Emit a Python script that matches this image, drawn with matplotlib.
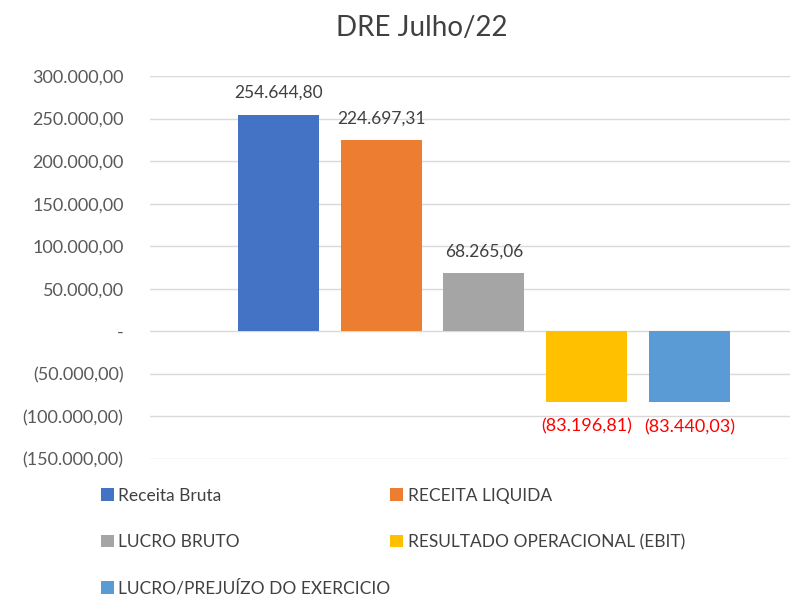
import matplotlib.pyplot as plt
from matplotlib.ticker import FuncFormatter

plt.rcParams['font.family'] = ['Lato', 'DejaVu Sans']

# dados do DRE
categorias = ['Receita Bruta', 'RECEITA LIQUIDA', 'LUCRO BRUTO',
              'RESULTADO OPERACIONAL (EBIT)', 'LUCRO/PREJUÍZO DO EXERCICIO']
valores = [254644.80, 224697.31, 68265.06, -83196.81, -83440.03]
cores = ['#4472C4', '#ED7D31', '#A5A5A5', '#FFC000', '#5B9BD5']
yticks = [300000, 250000, 200000, 150000, 100000, 50000, 0,
          -50000, -100000, -150000]


def fmt_br(v, pos=None):
    if abs(v) < 0.005:
        return '-'
    s = '{:,.2f}'.format(abs(v)).replace(',', 'X').replace('.', ',').replace('X', '.')
    if v < 0:
        return '(' + s + ')'
    return s


fig = plt.figure(figsize=(7.94, 5.97), dpi=100)
W, H = 794, 597
ax = fig.add_axes([150 / W, 1 - 459 / H, 640 / W, 383 / H])

x = list(range(len(valores)))
barras = ax.bar(x, valores, width=0.79, color=cores, zorder=3)

for xi, v in zip(x, valores):
    if v >= 0:
        ax.annotate(fmt_br(v), (xi, v), xytext=(0, 10), textcoords='offset points',
                    ha='center', va='bottom', fontsize=12.5, color='#404040')
    else:
        ax.annotate(fmt_br(v), (xi, v), xytext=(0, -12), textcoords='offset points',
                    ha='center', va='top', fontsize=13, color='#FF0000')

ax.set_xlim(-1.25, 4.98)
ax.set_ylim(-150000, 300000)
ax.set_yticks(yticks)
ax.yaxis.set_major_formatter(FuncFormatter(fmt_br))
ax.set_xticks([])
ax.tick_params(axis='y', length=0, labelsize=13, labelcolor='#595959', pad=19)
ax.grid(axis='y', color='#D9D9D9', linewidth=1, zorder=0)
for s in ax.spines.values():
    s.set_visible(False)

fig.text(422 / W, 1 - 28 / H, 'DRE Julho/22', ha='center', va='center',
         fontsize=20, color='#404040')

ordem = [0, 2, 4, 1, 3]
leg = fig.legend([barras[i] for i in ordem], [categorias[i] for i in ordem],
                 ncol=2, loc='upper left', bbox_to_anchor=(85 / W, 1 - 472 / H),
                 frameon=False, fontsize=12.5, handlelength=0.75, handleheight=0.75,
                 handletextpad=0.25, labelspacing=1.75, columnspacing=0.0,
                 labelcolor='#404040')

fig.savefig('out.png', dpi=100)
